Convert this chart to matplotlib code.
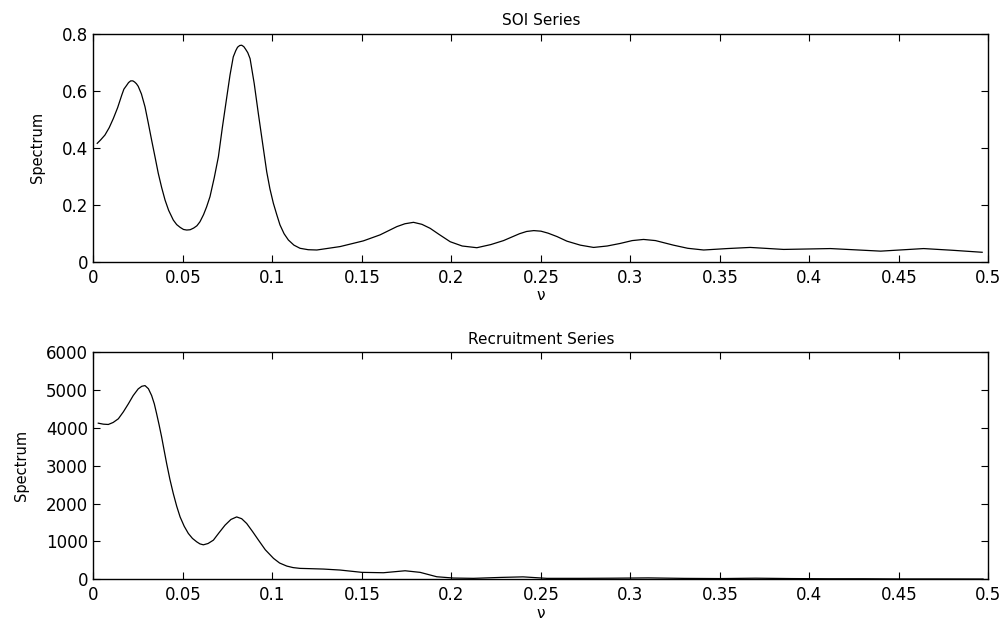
import numpy as np
import matplotlib
matplotlib.use('Agg')
import matplotlib.pyplot as plt
from matplotlib.ticker import FuncFormatter

# Smoothed spectra (frequency nu, spectrum)
soi_nu = [0.0021, 0.0040, 0.0064, 0.0088, 0.0111, 0.0135, 0.0158, 0.0170, 0.0185,
          0.0196, 0.0208, 0.0220, 0.0230, 0.0240, 0.0250, 0.0268, 0.0288, 0.0306,
          0.0325, 0.0344, 0.0362, 0.0381, 0.0400, 0.0420, 0.0446, 0.0465, 0.0485,
          0.0503, 0.0521, 0.0540, 0.0560, 0.0578, 0.0595, 0.0615, 0.0632, 0.0651,
          0.0675, 0.0698, 0.0720, 0.0745, 0.0763, 0.0781, 0.0795, 0.0805, 0.0817,
          0.0828, 0.0840, 0.0850, 0.0862, 0.0875, 0.0898, 0.0921, 0.0945, 0.0968,
          0.0986, 0.1005, 0.1024, 0.1042, 0.1065, 0.1089, 0.1120, 0.1154, 0.1200,
          0.1248, 0.1378, 0.1508, 0.1601, 0.1695, 0.1740, 0.1788, 0.1835, 0.1881,
          0.1930, 0.1993, 0.2060, 0.2142, 0.2220, 0.2291, 0.2380, 0.2420, 0.2460,
          0.2500, 0.2540, 0.2590, 0.2645, 0.2720, 0.2794, 0.2870, 0.2943, 0.3010,
          0.3073, 0.3140, 0.3240, 0.3320, 0.3409, 0.3540, 0.3669, 0.3856, 0.4118,
          0.4398, 0.4638, 0.4800, 0.4965]
soi_spec = [0.415, 0.427, 0.444, 0.470, 0.502, 0.540, 0.584, 0.605, 0.618,
            0.628, 0.634, 0.634, 0.630, 0.624, 0.615, 0.588, 0.543, 0.487,
            0.426, 0.367, 0.310, 0.260, 0.216, 0.180, 0.146, 0.130, 0.120,
            0.113, 0.111, 0.112, 0.118, 0.126, 0.140, 0.165, 0.192, 0.228,
            0.295, 0.368, 0.470, 0.578, 0.655, 0.718, 0.740, 0.752, 0.758,
            0.759, 0.754, 0.745, 0.733, 0.712, 0.625, 0.520, 0.415, 0.315,
            0.255, 0.205, 0.165, 0.129, 0.098, 0.076, 0.058, 0.047, 0.042,
            0.041, 0.053, 0.073, 0.094, 0.123, 0.133, 0.138, 0.131, 0.117,
            0.096, 0.070, 0.055, 0.049, 0.060, 0.074, 0.098, 0.106, 0.109,
            0.107, 0.100, 0.088, 0.072, 0.058, 0.050, 0.055, 0.064, 0.074,
            0.078, 0.074, 0.058, 0.047, 0.041, 0.046, 0.050, 0.043, 0.046,
            0.037, 0.046, 0.040, 0.033]

rec_nu = [0.0027, 0.0055, 0.0083, 0.0110, 0.0139, 0.0167, 0.0195, 0.0222, 0.0250,
          0.0270, 0.0288, 0.0307, 0.0325, 0.0340, 0.0353, 0.0367, 0.0381, 0.0395,
          0.0409, 0.0427, 0.0446, 0.0465, 0.0484, 0.0507, 0.0530, 0.0553, 0.0577,
          0.0595, 0.0614, 0.0640, 0.0670, 0.0700, 0.0735, 0.0768, 0.0800, 0.0828,
          0.0856, 0.0889, 0.0922, 0.0960, 0.1006, 0.1040, 0.1080, 0.1115, 0.1154,
          0.1200, 0.1285, 0.1378, 0.1500, 0.1620, 0.1741, 0.1825, 0.1918, 0.2011,
          0.2123, 0.2272, 0.2400, 0.2533, 0.2720, 0.2900, 0.3100, 0.3300, 0.3500,
          0.3700, 0.3900, 0.4100, 0.4300, 0.4500, 0.4700, 0.4970]
rec_spec = [4121, 4095, 4087, 4140, 4237, 4420, 4632, 4850, 5026,
            5095, 5113, 5030, 4850, 4630, 4368, 4070, 3753, 3400,
            3053, 2640, 2263, 1930, 1647, 1400, 1211, 1080, 989,
            935, 911, 945, 1034, 1220, 1429, 1580, 1647, 1600,
            1474, 1260, 1034, 780, 553, 430, 350, 310, 289,
            283, 271, 245, 184, 174, 226, 184, 68, 34,
            26, 50, 65, 26, 26, 30, 38, 25, 20,
            30, 20, 15, 15, 10, 10, 8]

plt.rcParams['font.family'] = ['DejaVu Sans']
plt.rcParams['font.size'] = 12

fig = plt.figure(figsize=(10.05, 6.21), dpi=100)
ax1 = fig.add_axes([0.093, 0.5786, 0.8905, 0.3674])
ax2 = fig.add_axes([0.093, 0.0671, 0.8905, 0.3661])

fmt = FuncFormatter(lambda v, p: '%g' % round(v, 4))

for ax, x, y, title, ymax, ystep in [(ax1, soi_nu, soi_spec, 'SOI Series', 0.8, 0.2),
                                     (ax2, rec_nu, rec_spec, 'Recruitment Series', 6000, 1000)]:
    ax.plot(x, y, c='k', lw=0.9)
    ax.set_xlim(0, 0.5)
    ax.set_ylim(0, ymax)
    ax.set_xticks(np.arange(0, 0.5001, 0.05))
    ax.set_yticks(np.arange(0, ymax * 1.0001, ystep))
    ax.xaxis.set_major_formatter(fmt)
    ax.yaxis.set_major_formatter(fmt)
    ax.tick_params(direction='in', top=True, right=True, length=5, width=0.8, labelsize=12)
    ax.tick_params(axis='x', pad=5)
    ax.tick_params(axis='y', pad=4)
    for s in ax.spines.values():
        s.set_linewidth(1.0)
    ax.set_title(title, fontsize=11, pad=6)
    ax.set_xlabel('ν', fontsize=11, labelpad=1)
    ax.set_ylabel('Spectrum', fontsize=10.5, labelpad=12)

fig.savefig('out.png', dpi=100)
